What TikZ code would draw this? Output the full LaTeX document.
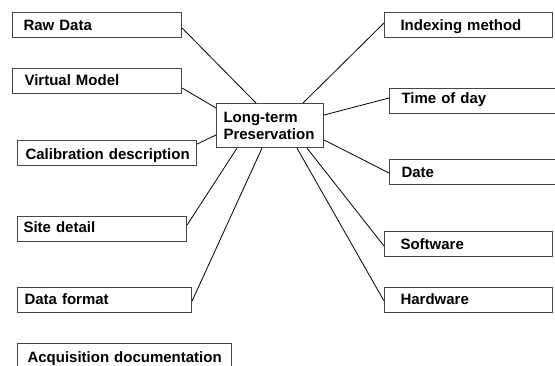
\documentclass[tikz,border=0pt]{standalone}
\usepackage{fontspec}
\setmainfont{Liberation Sans}
\usetikzlibrary{calc}
\definecolor{boxc}{RGB}{70,70,70}
\tikzset{
  lbl/.style={font=\fontsize{15pt}{17pt}\selectfont\bfseries,
    execute at begin node={\hyphenpenalty=10000\exhyphenpenalty=10000\hbadness=10000\hfuzz=20pt}},
  box/.style n args={3}{lbl, draw=boxc, line width=1.1pt, anchor=north west,
    minimum height=25pt, inner ysep=0pt, inner xsep=#2pt, text width=#1pt,
    align=left, text height=#3pt, text depth=0pt},
  link/.style={draw=black, line width=0.8pt}
}
\begin{document}
\begin{tikzpicture}[x=1pt,y=-1pt]
\useasboundingbox (0,0) rectangle (555,365);
% left boxes
\node[box={147}{11}{11}] (raw)   at (12,12)  {Raw~Data};
\node[box={145}{12}{9}]  (vm)    at (12,68)  {Virtual~Model};
\node[box={163}{8}{13}]  (cal)   at (17,140) {\mbox{Calibration description}};
\node[box={157}{6}{7}]   (site)  at (17,216) {Site~detail};
\node[box={160}{7}{9}]   (df)    at (17,287) {Data~format};
\node[box={194}{10}{13}] (acq)   at (17,343) {\mbox{Acquisition documentation}};
% right boxes
\node[box={136}{16}{11}] (idx)   at (384,12)  {Indexing~method};
\node[box={146}{12}{5}]  (time)  at (389,88)  {Time~of~day};
\node[box={146}{12}{11}] (date)  at (389,159) {Date};
\node[box={136}{16}{11}] (sw)    at (384,231) {Software};
\node[box={136}{16}{9}]  (hw)    at (384,287) {Hardware};
% centre
\node[lbl, draw=boxc, line width=1.1pt, anchor=north west, minimum width=107pt,
      minimum height=44pt, inner xsep=7pt, inner ysep=0pt, text width=93pt,
      align=left] (ltp) at (216,103) {\mbox{Long-term}\\\mbox{Preservation}};
% connectors
\draw[link] ($(raw.north east)+(0,16)$) -- ($(ltp.north west)+(40,0)$);
\draw[link] ($(vm.north east)+(0,20)$)  -- ($(ltp.north west)+(0,5)$);
\draw[link] ($(cal.north east)+(0,4)$)  -- ($(ltp.north west)+(0,32)$);
\draw[link] ($(ltp.south west)+(21,0)$) -- ($(site.north east)+(0,9)$);
\draw[link] ($(ltp.south west)+(46,0)$) -- ($(df.north east)+(0,14)$);
\draw[link] ($(ltp.south west)+(81,0)$) -- ($(hw.north west)+(0,14)$);
\draw[link] ($(ltp.south west)+(91,0)$) -- ($(sw.north west)+(0,15)$);
\draw[link] ($(ltp.north east)+(0,37)$) -- ($(date.north west)+(0,14)$);
\draw[link] ($(ltp.north east)+(0,12)$) -- ($(time.north west)+(0,10)$);
\draw[link] ($(ltp.north west)+(87,0)$) -- ($(idx.north west)+(0,11)$);
\end{tikzpicture}
\end{document}
